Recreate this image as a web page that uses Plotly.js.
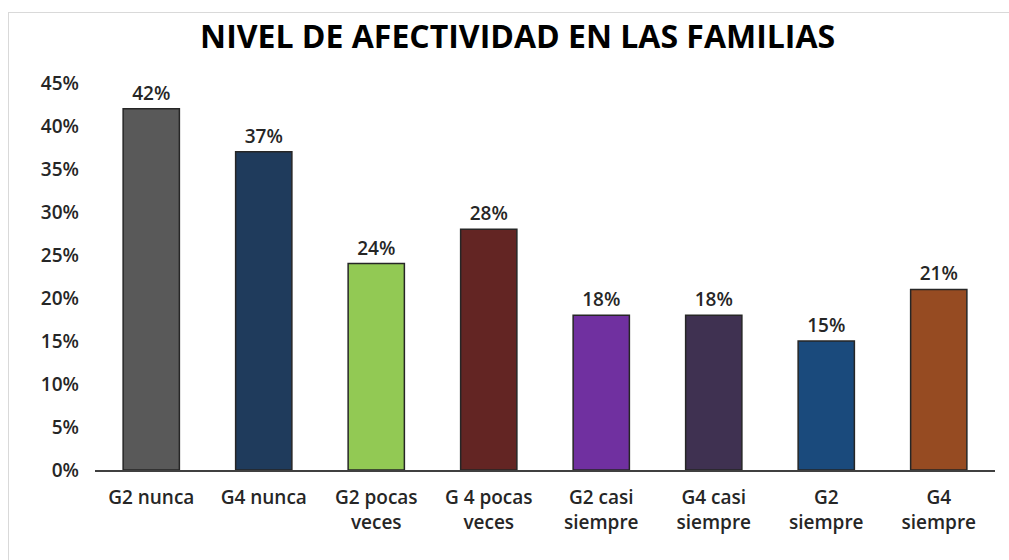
<!DOCTYPE html>
<html>
<head>
<meta charset="utf-8">
<script src="https://cdn.plot.ly/plotly-3.0.1.min.js"></script>
<style>
html,body{margin:0;padding:0;background:#fff;}
#wrap{position:relative;width:1009px;height:560px;}
#chart{width:1009px;height:560px;}
#frame{position:absolute;left:8px;top:12px;width:1010px;height:560px;border:1px solid #d9d9d9;pointer-events:none;box-sizing:border-box;}
</style>
</head>
<body>
<div id="wrap"><div id="chart"></div><div id="frame"></div></div>
<script>
const categories = ["G2 nunca","G4 nunca","G2 pocas<br>veces","G 4 pocas<br>veces","G2 casi<br>siempre","G4 casi<br>siempre","G2<br>siempre","G4<br>siempre"];
const values = [0.42,0.37,0.24,0.28,0.18,0.18,0.15,0.21];
const barColors = ["#595959","#1F3B5C","#92C954","#632523","#7030A0","#3F3151","#1A4A7C","#964B22"];
const yTickVals = [0,0.05,0.10,0.15,0.20,0.25,0.30,0.35,0.40,0.45];
const yTickText = ["0%","5%","10%","15%","20%","25%","30%","35%","40%","45%"];

const trace = {
  type: "bar",
  x: categories,
  y: values,
  marker: {color: barColors, line: {color: "#262626", width: 1.5}},
  text: values.map(v => Math.round(v*100) + "%"),
  textposition: "outside",
  cliponaxis: false,
  textfont: {family: "Open Sans", size: 19, color: "#262626", weight: 600},
  hoverinfo: "none"
};

const layout = {
  width: 1009, height: 560,
  margin: {l: 95, r: 14, t: 83, b: 90},
  paper_bgcolor: "#fff", plot_bgcolor: "#fff",
  title: {text: "<b>NIVEL DE AFECTIVIDAD EN LAS FAMILIAS</b>", x: 0.513, xanchor: "center", y: 0.935, yanchor: "middle",
          font: {family: "Open Sans", size: 32, color: "#000"}},
  bargap: 0.5,
  showlegend: false,
  xaxis: {
    showline: true, linecolor: "#404040", linewidth: 1.5,
    ticks: "", showgrid: false,
    tickfont: {family: "Open Sans", size: 19, color: "#262626", weight: 600},
    ticklabelstandoff: 10
  },
  yaxis: {
    range: [0, 0.45], tickvals: yTickVals, ticktext: yTickText,
    showgrid: false, zeroline: false, showline: false,
    ticks: "", ticklabelstandoff: 15,
    tickfont: {family: "Open Sans", size: 19, color: "#262626", weight: 600}
  }
};

Plotly.newPlot("chart", [trace], layout, {displayModeBar: false, staticPlot: true});
</script>
</body>
</html>
